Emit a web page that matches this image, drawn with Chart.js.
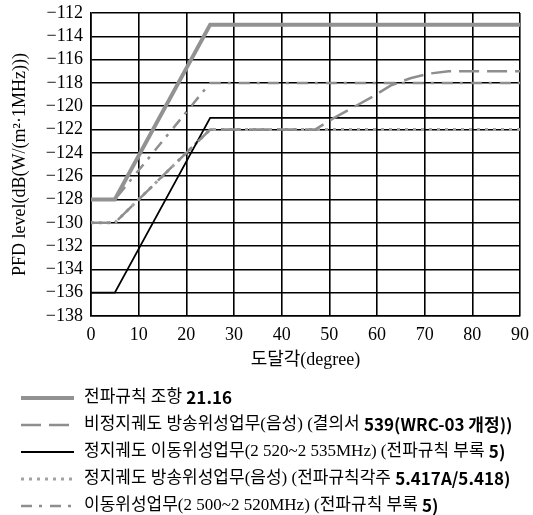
<!DOCTYPE html>
<html>
<head>
<meta charset="utf-8">
<script src="https://cdn.jsdelivr.net/npm/chart.js@4.4.1/dist/chart.umd.min.js"></script>
<style>
html,body{margin:0;padding:0;background:#fff;}
#wrap{width:533px;height:515px;}
</style>
</head>
<body>
<div id="wrap"><canvas id="c" width="533" height="515"></canvas></div>
<script>
// ---- Data ----
const xTitle = "도달각(degree)";
const yTitle = "PFD level(dB(W/(m²·1MHz)))";

const seriesLabels = [
  "전파규칙 조항 **21.16**",
  "비정지궤도 방송위성업무(음성) (결의서 **539(WRC-03 개정))**",
  "정지궤도 이동위성업무(2 520~2 535MHz) (전파규칙 부록 **5)**",
  "정지궤도 방송위성업무(음성) (전파규칙각주 **5.417A/5.418)**",
  "이동위성업무(2 500~2 520MHz) (전파규칙 부록 **5)**"
];

// series 1: 전파규칙 조항 21.16
const s1X = [0, 5, 25, 90];
const s1Y = [-128, -128, -113, -113];
// series 2: 비정지궤도 방송위성업무(음성)
const s2X = [0, 5, 25, 47, 51, 55, 59, 63, 67, 71, 75, 90];
const s2Y = [-130, -130, -122, -122, -121, -120.1, -119.2, -118.2, -117.6, -117.2, -117, -117];
// series 3: 정지궤도 이동위성업무
const s3X = [0, 5, 25, 90];
const s3Y = [-136, -136, -121, -121];
// series 4: 정지궤도 방송위성업무(음성)
const s4X = [0, 5, 25, 90];
const s4Y = [-130, -130, -122, -122];
// series 5: 이동위성업무(2 500~2 520MHz)
const s5X = [0, 5, 25, 90];
const s5Y = [-128, -128, -118, -118];

const xMin = 0, xMax = 90, xStep = 10;
const yMin = -138, yMax = -112, yStep = 2;

// ---- Build ----
const pts = (xs, ys) => xs.map((x, i) => ({x: x, y: ys[i]}));

const tickFont = {family: "'Liberation Serif', 'Noto Sans CJK KR', serif", size: 18, lineHeight: 1.2};
const regFont = "17px 'Liberation Serif', 'Noto Sans CJK KR', serif";
const boldFont = "bold 17px 'Noto Sans CJK KR', 'Liberation Sans', sans-serif";
const legendTop = 398, legendRowGap = 27;

const datasets = [
  {label: seriesLabels[0], data: pts(s1X, s1Y), borderColor: '#929292', borderWidth: 4, borderDash: []},
  {label: seriesLabels[1], data: pts(s2X, s2Y), borderColor: '#8e8e8e', borderWidth: 2.5, borderDash: [20, 8]},
  {label: seriesLabels[2], data: pts(s3X, s3Y), borderColor: '#000000', borderWidth: 1.8, borderDash: []},
  {label: seriesLabels[3], data: pts(s4X, s4Y), borderColor: '#a3a3a3', borderWidth: 3, borderDash: [3, 5]},
  {label: seriesLabels[4], data: pts(s5X, s5Y), borderColor: '#8e8e8e', borderWidth: 2.5, borderDash: [11, 7, 3, 8]}
].map(d => Object.assign(d, {pointRadius: 0, tension: 0, fill: false, borderCapStyle: 'butt'}));

const legendPlugin = {
  id: 'customLegend',
  afterDraw(chart) {
    const ctx = chart.ctx;
    chart.data.datasets.forEach((ds, i) => {
      const y = legendTop + i * legendRowGap;
      ctx.save();
      ctx.strokeStyle = ds.borderColor;
      ctx.lineWidth = ds.borderWidth;
      ctx.lineCap = 'butt';
      ctx.setLineDash(ds.borderDash || []);
      ctx.beginPath();
      ctx.moveTo(21, y);
      ctx.lineTo(74, y);
      ctx.stroke();
      ctx.setLineDash([]);
      ctx.fillStyle = '#000';
      ctx.textBaseline = 'middle';
      ctx.textAlign = 'left';
      let x = 84;
      ds.label.split('**').forEach((p, k) => {
        ctx.font = (k % 2) ? boldFont : regFont;
        ctx.fillText(p, x, y);
        x += ctx.measureText(p).width;
      });
      ctx.restore();
    });
  }
};

new Chart(document.getElementById('c'), {
  type: 'line',
  data: {datasets: datasets},
  plugins: [legendPlugin],
  options: {
    responsive: false,
    animation: false,
    devicePixelRatio: 1,
    layout: {padding: {left: 0, right: 13, top: 13, bottom: 139}},
    plugins: {legend: {display: false}, tooltip: {enabled: false}},
    scales: {
      x: {
        type: 'linear', min: xMin, max: xMax,
        ticks: {stepSize: xStep, padding: 8, font: tickFont, color: '#000', maxRotation: 0, autoSkip: false},
        grid: {color: '#000', lineWidth: 1.6, drawTicks: false},
        border: {color: '#000', width: 1.6},
        title: {display: true, text: xTitle, font: tickFont, color: '#000', padding: {top: 0, bottom: 5}},
        afterFit(s) { s.height = 60; s.paddingLeft = 0; s.paddingRight = 0; }
      },
      y: {
        type: 'linear', min: yMin, max: yMax,
        ticks: {stepSize: yStep, padding: 8, font: tickFont, color: '#000', autoSkip: false,
                callback: v => String(v).replace('-', '\u2212')},
        grid: {color: '#000', lineWidth: 1.6, drawTicks: false},
        border: {color: '#000', width: 1.6},
        title: {display: true, text: yTitle, font: tickFont, color: '#000', padding: {top: 9, bottom: 0}},
        afterFit(s) { s.width = 91; s.paddingTop = 0; s.paddingBottom = 0; }
      }
    }
  }
});
</script>
</body>
</html>
